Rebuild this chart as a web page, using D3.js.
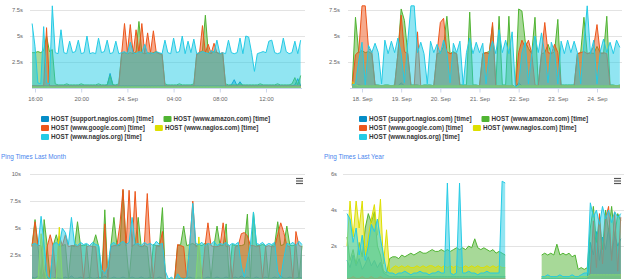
<!DOCTYPE html>
<html>
<head>
<meta charset="utf-8">
<script src="https://cdn.jsdelivr.net/npm/d3@7"></script>
<style>
body { margin: 0; background: #fff; }
svg { display: block; font-family: "Liberation Sans", Arial, sans-serif; }
</style>
</head>
<body>
<svg id="graph" width="624" height="279"></svg>
<script>
var hosts = ["HOST (support.nagios.com) [time]", "HOST (www.amazon.com) [time]",
    "HOST (www.google.com) [time]", "HOST (www.nagios.com) [time]", "HOST (www.nagios.org) [time]"];
var hostColors = ["#058DC7", "#50B432", "#ED561B", "#DDDF00", "#24CBE5"];

// last 24 hours, one sample every 15 minutes
var dayStart = new Date(2016, 8, 23, 15, 45);
var daySupport = [0.2,0.2,0.2,0.2,0.2,0.2,0.2,0.2,0.2,0.2, 0.2,0.2,0.2,0.2,0.2,0.2,0.2,0.2,0.2,0.2,
    0.2,0.2,0.2,0.2,0.2,0.2,0.3,1.4,0.3,0.2, 0.2,0.2,0.2,0.2,0.2,0.2,0.2,0.2,0.2,0.2,
    0.2,0.2,0.2,0.2,0.2,0.2,0.2,0.2,0.2,0.2, 0.2,0.2,0.2,0.2,0.2,0.2,0.2,0.2,0.2,0.2,
    0.2,0.2,0.2,0.2,0.2,0.2,0.2,0.2,0.2,0.3, 0.8,0.2,0.6,0.2,0.2,0.2,0.2,0.2,0.2,0.2,
    0.2,0.2,0.2,0.2,0.2,0.2,0.2,0.2,0.2,0.2, 0.2,0.3,0.9,0.2];
var dayAmazon = [3.4,3.4,3.5,3.4,3.6,5.0,3.5,3.7,0.4,0.3, 0.3,0.3,0.4,0.3,0.3,0.3,0.3,0.4,0.3,0.3,
    0.3,0.3,0.3,0.4,0.3,0.3,0.3,1.2,0.3,0.3, 0.4,3.3,3.4,3.3,3.4,3.3,3.5,6.4,3.4,3.3,
    3.4,3.3,3.4,3.5,3.3,3.2,0.4,0.3,0.3,0.3, 0.3,0.4,0.3,0.3,0.3,0.3,0.4,3.2,3.4,3.6,
    7.0,3.4,3.3,3.5,3.4,3.3,3.3,0.4,0.3,0.3, 0.3,0.3,0.4,0.3,0.3,0.3,0.3,0.3,0.3,0.4,
    0.3,0.3,0.3,0.3,0.3,0.4,0.3,0.3,0.3,0.3, 0.4,1.0,0.3,1.2];
var dayGoogle = [0.2,0.2,0.2,0.2,0.2,5.8,0.2,0.2,0.2,0.2, 0.2,0.2,0.2,0.2,0.2,0.2,0.2,0.2,0.2,0.2,
    0.2,0.2,0.2,0.2,0.2,0.2,0.2,0.2,0.2,0.2, 0.2,3.3,6.2,3.4,6.1,3.3,5.6,3.4,6.2,3.3,
    5.3,3.4,5.5,3.4,3.3,3.3,0.2,0.2,0.2,0.2, 0.2,0.2,0.2,0.2,0.2,0.2,0.2,3.3,3.4,6.0,
    3.4,4.2,3.3,4.3,3.4,3.3,3.4,0.2,0.2,0.2, 0.2,0.2,0.2,0.2,0.2,0.2,0.2,0.2,0.2,0.2,
    0.2,0.2,0.2,0.2,0.2,0.2,0.2,0.2,0.2,0.2, 0.2,0.2,0.2,0.2];
var dayNagiosCom = [0.1,0.1,0.1,0.1,0.1,0.1,0.1,0.1,0.1,0.1, 0.1,0.1,0.1,0.1,0.1,0.1,0.1,0.1,0.1,0.1,
    0.1,0.1,0.1,0.1,0.1,0.1,0.1,0.1,0.1,0.1, 0.1,0.1,0.1,0.1,0.1,0.1,0.1,0.1,0.1,0.1,
    0.1,0.1,0.1,0.1,0.1,0.1,0.1,0.1,0.1,0.1, 0.1,0.1,0.1,0.1,0.1,0.1,0.1,0.1,0.1,0.1,
    0.1,0.1,0.1,0.1,0.1,0.1,0.1,0.1,0.1,0.1, 0.1,0.1,0.1,0.1,0.1,0.1,0.1,0.1,0.1,0.1,
    0.1,0.1,0.1,0.1,0.1,0.1,0.1,0.1,0.1,0.1, 0.1,0.1,0.1,0.1];
var dayNagiosOrg = [6.2,4.0,0.5,0.4,5.9,0.5,0.4,7.9,3.4,3.3, 5.6,3.4,3.3,4.5,3.4,3.5,4.6,3.3,3.4,5.0,
    3.3,3.4,3.3,4.8,3.4,3.5,4.6,3.3,3.4,4.5, 3.3,3.4,3.5,3.3,4.4,3.4,3.3,3.5,3.4,4.2,
    3.3,3.4,3.3,3.5,3.4,3.3,4.6,3.4,3.3,4.8, 3.4,3.5,5.0,3.3,4.5,3.4,4.7,3.3,3.4,3.5,
    3.4,3.3,3.6,3.4,4.6,3.3,3.4,3.3,4.6,3.4, 3.3,3.4,4.8,3.3,5.0,4.9,3.4,1.6,3.3,3.4,
    3.5,3.4,4.5,4.6,3.4,3.3,3.4,4.8,3.5,3.3, 3.4,4.5,3.3,4.6];

// last week, one sample every 2 hours
var weekStart = new Date(2016, 8, 17, 18);
var weekSupport = [0.2,0.2,0.3,0.2,0.2,0.2,0.2,0.2,0.2,0.2, 0.2,0.2,0.2,0.2,0.2,0.5,0.2,0.2,0.2,0.2,
    0.2,0.2,0.2,0.2,0.2,0.2,0.2,0.2,0.2,0.2, 0.2,0.2,0.2,0.2,0.2,0.2,0.2,0.2,0.2,0.2,
    0.2,0.2,0.2,0.2,0.2,0.2,0.2,0.2,0.2,0.2, 0.1,0.5,0.2,0.2,0.2,0.2,0.2,0.2,0.2,0.2,
    0.2,0.2,0.2,0.2,0.2,0.2,0.2,0.2,0.2,0.2, 0.2,0.2,0.2,0.2,0.2,0.2,0.2,0.2,0.2,0.2,
    0.2,0.2,0.2];
var weekAmazon = [0.3,6.8,3.4,3.6,3.4,3.5,3.3,0.3,0.3,0.2, 0.3,0.3,0.2,0.3,3.3,7.6,6.5,3.4,0.3,0.3,
    0.3,0.2,0.3,0.3,0.3,0.2,3.3,3.4,4.0,6.9, 3.3,3.5,3.3,0.3,0.3,0.3,7.3,0.3,0.3,0.2,
    3.3,3.4,3.5,6.0,0.3,6.9,0.3,0.3,6.9,0.3, 0.1,7.6,7.4,4.5,3.8,3.3,6.8,0.3,3.3,3.4,
    4.2,3.3,3.5,6.6,0.3,0.3,0.3,0.3,0.3,3.3, 3.4,6.8,3.3,3.4,3.3,4.0,3.4,3.3,6.9,0.3,
    0.3,0.2,0.3];
var weekGoogle = [0.2,3.2,3.5,7.9,7.9,3.8,3.5,0.3,0.2,0.2, 0.2,0.2,0.2,0.2,3.3,7.0,3.5,3.3,0.2,0.2,
    5.4,0.2,0.2,0.2,0.2,0.2,3.4,6.3,6.7,3.5, 3.3,3.4,3.3,0.2,0.2,0.2,0.2,0.2,0.2,0.2,
    3.3,3.4,3.3,6.3,0.2,0.2,0.2,0.2,0.2,0.2, 0.1,3.4,4.6,3.9,4.6,3.3,0.3,0.2,3.3,6.3,
    3.4,3.3,4.2,3.4,0.2,0.2,0.2,0.2,0.2,3.3, 3.4,3.5,3.3,3.4,4.0,6.1,3.3,3.4,3.3,0.2,
    0.2,0.2,0.2];
var weekNagiosCom = [0.6,0.3,0.2,0.2,0.2,0.2,0.2,0.2,0.2,0.2, 0.2,0.2,0.2,0.2,0.2,0.2,0.2,0.2,0.2,0.2,
    0.2,0.2,0.2,0.2,0.2,0.2,0.2,0.2,0.2,0.2, 0.2,0.2,0.2,0.2,0.2,0.2,0.2,0.2,0.2,0.2,
    0.2,0.2,0.2,0.2,0.2,0.2,0.2,0.2,0.2,0.2, 0.1,0.2,0.2,0.2,0.2,0.2,0.2,0.2,0.2,0.2,
    0.2,0.2,0.2,0.2,0.2,0.2,0.2,0.2,0.2,0.2, 0.2,0.2,0.2,0.2,0.2,0.2,0.2,0.2,0.2,0.2,
    0.2,0.2,0.2];
var weekNagiosOrg = [0.3,0.4,2.6,4.4,0.3,4.1,3.4,4.3,3.4,0.4, 4.6,3.3,4.5,3.4,4.8,3.3,0.5,4.4,7.9,7.9,
    3.4,4.4,3.3,0.4,4.5,3.4,4.2,3.3,4.6,3.4, 0.5,4.3,3.4,4.5,0.3,3.4,4.8,3.3,4.4,3.4,
    4.3,0.4,3.4,4.5,3.3,5.6,3.4,4.6,3.3,5.4, 0.1,0.3,3.4,4.4,0.4,3.3,5.0,3.4,5.3,3.3,
    0.5,4.4,3.4,0.4,4.5,3.3,4.6,3.4,4.5,3.4, 0.4,4.3,7.9,3.3,4.6,0.4,3.5,4.7,3.4,4.4,
    3.3,4.6,3.9];

// last month, one sample every 8 hours
var monthStart = new Date(2016, 7, 25);
var monthSupport = [0.5,0.4,0.6,0.4,1.0,0.5,0.3,0.4,0.5,0.4, 0.4,0.5,0.4,0.6,0.4,0.4,0.5,0.4,0.4,0.5,
    0.4,0.4,0.5,0.4,0.6,0.4,0.4,0.5,0.4,0.4, 0.5,0.4,0.4,0.5,0.4,0.4,0.5,0.4,0.4,0.5,
    0.4,0.4,0.5,0.4,0.3,0.2,0.3,0.2,0.3,0.4, 0.4,0.4,0.5,0.4,0.4,0.5,0.4,0.4,0.5,0.4,
    0.4,0.5,0.4,0.4,0.5,0.4,0.4,0.5,0.4,0.6, 0.4,0.5,0.4,0.4,0.5,0.4,0.4,0.5,0.4,0.4,
    0.5,0.4,0.6,0.4,0.4,0.5,0.4,0.4,0.5,0.4];
var monthAmazon = [3.4,5.8,3.3,0.3,5.8,3.4,0.3,3.4,4.4,3.3, 3.4,3.5,0.3,3.4,3.3,5.6,3.4,3.4,3.5,0.3,
    3.4,4.4,3.3,0.4,6.7,0.5,3.4,6.0,3.4,3.4, 8.5,3.5,0.3,3.4,3.5,6.0,3.3,3.4,3.3,0.3,
    3.5,3.4,3.4,6.9,0.3,0.3,0.2,0.3,3.4,3.5, 5.2,3.4,3.5,3.6,3.4,3.5,3.4,3.6,3.5,0.3,
    3.4,5.2,3.4,3.4,5.4,0.3,3.5,3.4,3.4,3.4, 3.5,6.3,0.3,6.5,3.4,3.4,3.5,3.4,0.3,3.4,
    3.5,5.6,3.4,3.5,5.2,3.4,3.4,3.5,0.3,3.4];
var monthGoogle = [3.3,5.6,3.4,3.4,0.3,3.3,4.4,3.3,0.3,4.3, 3.4,4.4,3.3,3.4,3.4,3.3,3.5,0.3,3.3,3.4,
    3.3,3.3,0.3,0.3,5.4,0.3,3.3,3.4,3.4,5.4, 8.6,3.4,8.5,3.3,8.4,3.4,3.3,3.4,8.2,3.3,
    0.3,3.4,3.3,4.7,0.3,0.2,0.3,0.2,3.5,3.4, 3.3,0.4,3.5,7.5,3.3,3.4,0.3,3.3,5.5,3.4,
    3.3,3.3,3.4,5.5,3.3,3.4,0.3,3.3,3.4,4.5, 4.6,4.3,3.4,3.4,3.3,3.4,0.3,3.3,3.4,3.3,
    3.3,4.4,5.5,4.6,3.4,3.3,0.3,4.7,3.4,3.3];
var monthNagiosCom = [0.3,0.3,0.4,4.5,1.2,0.3,0.3,0.4,0.3,5.1, 0.3,0.3,0.3,0.3,0.3,0.3,0.3,0.3,0.3,0.3,
    0.3,0.3,0.3,0.3,0.3,0.3,0.3,0.3,0.3,0.3, 0.3,0.3,0.3,0.3,0.3,0.3,0.3,0.3,0.3,0.3,
    0.3,0.3,0.3,0.3,0.3,0.3,0.3,0.3,0.3,0.3, 0.3,0.3,0.3,0.3,0.3,4.2,0.3,0.3,0.3,0.3,
    0.3,0.3,0.3,0.3,0.3,0.3,0.3,0.3,0.3,0.3, 0.3,0.3,0.3,0.3,0.3,0.3,0.3,0.3,0.3,0.3,
    0.3,0.3,0.3,0.3,0.3,0.3,0.3,0.3,0.3,0.3];
var monthNagiosOrg = [3.5,3.6,3.4,6.1,3.5,0.6,0.3,3.5,3.7,3.4, 5.0,4.6,3.5,6.0,3.6,3.4,3.7,3.5,3.6,3.4,
    3.7,3.5,3.4,1.2,0.8,1.4,3.5,3.7,3.4,3.6, 3.8,3.5,3.7,6.0,3.5,3.6,3.4,3.7,3.5,3.6,
    3.4,3.8,3.5,3.6,1.0,0.3,0.5,0.2,0.8,0.4, 0.3,0.4,3.5,7.3,3.6,3.5,3.7,3.4,3.6,3.5,
    3.8,3.4,3.6,3.5,3.7,3.4,3.6,3.5,3.7,1.5, 0.5,2.0,3.5,6.5,3.6,3.5,3.7,3.4,3.6,3.5,
    3.7,1.0,0.4,2.2,3.6,3.5,3.7,3.4,3.8,3.5];

// last year, one sample every 4 days (null = no data)
var yearStart = new Date(2015, 8, 22);
var yearSupport = [1.2,0.8,1.5,0.9,1.3,0.7,1.0,1.4,0.9,1.2, 0.8,1.1,0.5,0.4,0.3,0.3,0.3,0.3,0.3,0.3,
    0.3,0.3,0.3,0.3,0.3,0.3,0.3,0.3,0.3,0.3, 0.3,0.3,0.3,0.3,0.3,0.3,0.3,0.3,0.3,0.3,
    0.3,0.3,0.3,0.3,0.3,0.3,0.3,0.3,0.3,0.3, 0.3,0.3,0.3,null,null,null,null,null,null,null,
    null,null,null,null,0.2,0.2,0.2,0.2,0.2,0.2, 0.2,0.2,0.2,0.2,0.2,0.2,0.2,0.2,0.2,0.2,
    2.2,1.5,2.8,1.2,2.5,1.8,3.0,1.4,2.6,2.0, 2.4];
var yearAmazon = [2.5,1.2,1.8,1.0,2.2,1.4,3.0,3.8,3.3,3.9, 2.0,1.5,0.6,0.5,1.3,1.4,1.4,1.3,1.5,1.4,
    1.5,1.6,1.5,1.6,1.7,1.6,1.6,1.7,1.8,1.7, 1.7,1.8,1.7,1.8,1.7,1.8,1.9,1.8,1.9,1.8,
    2.0,1.9,2.4,1.9,1.8,1.9,1.8,1.7,1.8,1.6, 1.7,1.6,1.5,null,null,null,null,null,null,null,
    null,null,null,null,1.5,1.6,1.5,1.6,1.5,2.1, 1.5,1.6,1.5,1.6,1.4,1.5,0.7,0.8,0.7,0.8,
    3.0,4.2,2.2,3.6,1.8,4.0,2.8,4.2,2.5,3.8, 3.4];
var yearGoogle = [0.2,0.2,0.3,0.2,0.2,0.3,0.2,0.2,0.3,0.2, 0.2,0.3,0.2,0.2,0.2,0.2,0.2,0.2,0.2,0.2,
    0.2,0.2,0.2,0.2,0.2,0.2,0.2,0.2,0.2,0.2, 0.2,0.2,0.2,0.2,0.2,0.2,0.2,0.2,0.2,0.2,
    0.2,0.2,0.2,0.2,0.2,0.2,0.2,0.2,0.2,0.2, 0.2,0.2,0.2,null,null,null,null,null,null,null,
    null,null,null,null,0.1,0.1,0.1,0.1,0.1,0.1, 0.1,0.1,0.1,0.1,0.1,0.1,0.1,0.1,0.1,0.1,
    0.5,3.4,0.8,3.8,1.0,3.5,4.2,1.2,3.9,0.6, 3.6];
var yearNagiosCom = [2.0,4.5,2.5,4.5,3.0,4.5,1.5,2.5,3.5,4.3, 2.6,4.6,1.0,2.9,0.6,0.8,0.9,0.8,0.9,0.8,
    0.9,0.8,0.8,0.9,0.8,0.9,0.8,0.9,0.9,0.8, 0.9,0.8,0.9,0.8,0.9,0.8,0.9,0.8,0.8,0.9,
    0.8,0.9,0.8,0.9,0.8,0.8,0.9,0.8,0.9,0.8, 0.9,0.8,0.8,null,null,null,null,null,null,null,
    null,null,null,null,0.3,0.3,0.3,0.3,0.3,0.3, 0.3,0.3,0.3,0.3,0.3,0.3,0.3,0.3,0.3,0.3,
    0.4,0.4,0.4,0.4,0.4,0.4,0.4,0.4,0.4,0.4, 0.4];
var yearNagiosOrg = [3.8,3.5,2.2,3.0,1.5,2.6,1.2,2.0,3.2,2.8, 3.5,2.4,1.5,0.6,0.5,0.5,0.4,0.5,0.5,0.6,
    0.5,0.4,0.5,0.5,0.6,0.5,0.5,0.4,0.5,0.5, 0.6,0.5,0.5,5.5,0.5,0.4,0.5,5.5,0.5,0.5,
    0.6,0.5,0.5,0.4,0.5,0.5,0.6,0.5,0.5,0.5, 0.5,5.6,5.5,null,null,null,null,null,null,null,
    null,null,null,null,0.3,0.3,0.4,0.3,0.3,0.3, 0.4,0.3,0.3,0.3,0.4,0.3,0.3,0.4,0.5,0.5,
    4.4,3.6,4.0,3.2,4.2,3.5,4.0,3.3,3.9,3.6, 3.8];

var secTicksShort = [2.5, 5, 7.5];
var secTicksMonth = [2.5, 5, 7.5, 10];
var secTicksYear = [2, 4, 6];

var svg = d3.select("#graph");

var charts = [
    {series: [daySupport, dayAmazon, dayGoogle, dayNagiosCom, dayNagiosOrg], start: dayStart, step: 15,
     xDomain: [new Date(2016, 8, 23, 16), new Date(2016, 8, 24, 12)], xRange: [35, 266], plot: [32, 302],
     grid: [30, 305], yMax: 7.5, yRange: [88, 10], yTicks: secTicksShort, labelX: 23,
     xTicks: d3.timeHour.every(4), legendX: 41},
    {series: [weekSupport, weekAmazon, weekGoogle, weekNagiosCom, weekNagiosOrg], start: weekStart, step: 120,
     xDomain: [new Date(2016, 8, 18), new Date(2016, 8, 24)], xRange: [362, 597], plot: [350, 620],
     grid: [348, 622], yMax: 7.5, yRange: [88, 10], yTicks: secTicksShort, labelX: 340,
     xTicks: d3.timeDay.every(1), legendX: 359},
    {series: [monthSupport, monthAmazon, monthGoogle, monthNagiosCom, monthNagiosOrg], start: monthStart, step: 480,
     xDomain: [new Date(2016, 7, 25), new Date(2016, 8, 23, 16)], xRange: [32, 302], plot: [32, 303],
     grid: [30, 305], yMax: 10, yRange: [282.5, 174], yTicks: secTicksMonth, labelX: 21,
     title: "Ping Times Last Month", titleX: 1, menuX: 296},
    {series: [yearSupport, yearAmazon, yearGoogle, yearNagiosCom, yearNagiosOrg], start: yearStart, step: 5760,
     xDomain: [new Date(2015, 8, 22), new Date(2016, 8, 15)], xRange: [347, 620], plot: [347, 622],
     grid: [343, 624], yMax: 6, yRange: [282, 174], yTicks: secTicksYear, labelX: 337,
     title: "Ping Times Last Year", titleX: 324, menuX: 614}
];

var dayFmt = d3.timeFormat("%-d. %b"), hourFmt = d3.timeFormat("%H:%M");

charts.forEach(function(cfg) {
    var g = svg.append("g");
    var x = d3.scaleTime().domain(cfg.xDomain).range(cfg.xRange);
    var y = d3.scaleLinear().domain([0, cfg.yMax]).range(cfg.yRange);
    var times = cfg.series[0].map(function(d, i) {
        return d3.timeMinute.offset(cfg.start, i * cfg.step);
    });

    // Grid lines and second labels
    g.selectAll(".grid").data(cfg.yTicks).enter().append("line")
        .attr("x1", cfg.grid[0]).attr("x2", cfg.grid[1])
        .attr("y1", function(d) { return Math.round(y(d)) + 0.5; })
        .attr("y2", function(d) { return Math.round(y(d)) + 0.5; })
        .style("stroke", "#e3e3e3").style("stroke-width", 1);
    g.selectAll(".ylab").data(cfg.yTicks).enter().append("text")
        .attr("x", cfg.labelX).attr("y", function(d) { return y(d); })
        .attr("dy", "0.35em").attr("text-anchor", "end")
        .style("font-size", "5.8px").style("fill", "#666")
        .text(function(d) { return d + "s"; });

    // Series, drawn in legend order
    cfg.series.forEach(function(values, s) {
        var pts = values.map(function(v, i) { return {t: times[i], v: v}; });
        var area = d3.area()
            .defined(function(d) { return d.v !== null; })
            .x(function(d) { return x(d.t); })
            .y0(y(0))
            .y1(function(d) { return y(d.v); });
        var line = d3.line()
            .defined(function(d) { return d.v !== null; })
            .x(function(d) { return x(d.t); })
            .y(function(d) { return y(d.v); });
        g.append("path").attr("d", area(pts))
            .style("fill", hostColors[s]).style("fill-opacity", 0.5);
        g.append("path").attr("d", line(pts))
            .style("fill", "none").style("stroke", hostColors[s]).style("stroke-width", 1);
    });

    // X axis
    g.append("line")
        .attr("x1", cfg.plot[0]).attr("x2", cfg.plot[1])
        .attr("y1", Math.round(y(0)) + 0.5).attr("y2", Math.round(y(0)) + 0.5)
        .style("stroke", "#ccd6eb");
    if (cfg.xTicks) {
        var axis = d3.axisBottom(x).ticks(cfg.xTicks).tickSize(4).tickPadding(4)
            .tickFormat(function(d) { return d.getHours() === 0 ? dayFmt(d) : hourFmt(d); });
        var ax = g.append("g").attr("transform", "translate(0," + (Math.round(y(0)) + 0.5) + ")").call(axis);
        ax.select(".domain").remove();
        ax.selectAll("line").style("stroke", "#ccd6eb");
        ax.selectAll("text").style("font-size", "5.8px").style("fill", "#666")
            .style("font-family", "'Liberation Sans', Arial, sans-serif");
    }

    // Legend
    if (cfg.legendX !== undefined) {
        var rows = [[0, 1], [2, 3], [4]];
        rows.forEach(function(row, r) {
            var lx = cfg.legendX, ly = 119 + r * 9;
            row.forEach(function(s) {
                g.append("rect").attr("x", lx).attr("y", ly - 3).attr("width", 8).attr("height", 6)
                    .attr("rx", 1).style("fill", hostColors[s]);
                var t = g.append("text").attr("x", lx + 10).attr("y", ly + 2.2)
                    .style("font-size", "6.3px").style("font-weight", "bold").style("fill", "#333")
                    .text(hosts[s]);
                lx += 10 + t.node().getComputedTextLength() + 10;
            });
        });
    }

    // Title and menu button
    if (cfg.title) {
        g.append("text").attr("x", cfg.titleX).attr("y", 159)
            .style("font-size", "6.4px").style("fill", "#4a86ee").text(cfg.title);
        [178.5, 181, 183.5].forEach(function(my) {
            g.append("line").attr("x1", cfg.menuX).attr("x2", cfg.menuX + 7)
                .attr("y1", my).attr("y2", my)
                .style("stroke", "#555").style("stroke-width", 1.2);
        });
    }
});
</script>
</body>
</html>
